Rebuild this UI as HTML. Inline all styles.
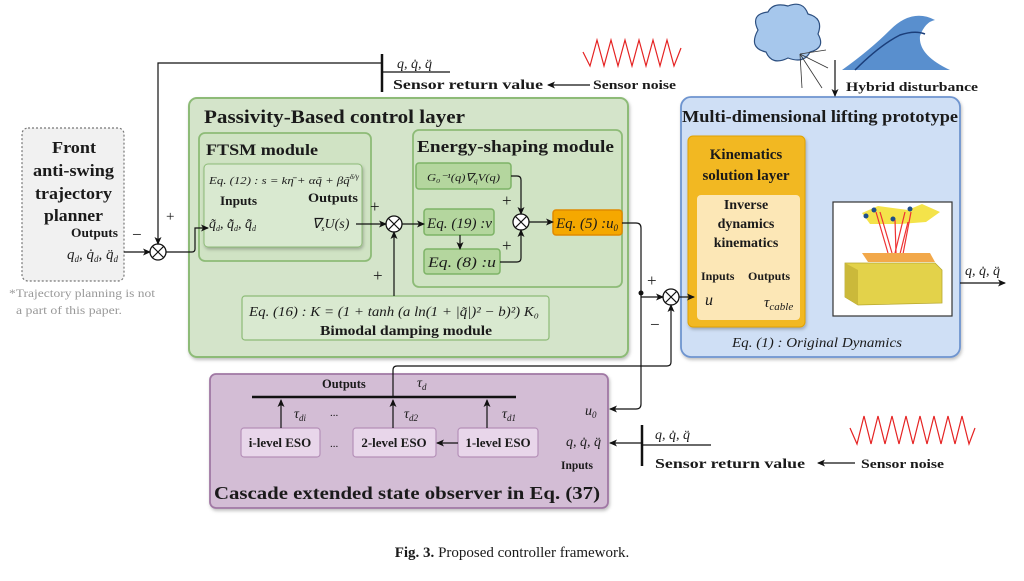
<!DOCTYPE html>
<html><head><meta charset="utf-8"><style>
body{margin:0;background:#fff}
svg{display:block}
text{font-family:"Liberation Serif",serif;fill:#1a1a1a}
.b{font-weight:bold}
.i{font-style:italic}
</style></head><body>
<svg width="1024" height="581" viewBox="0 0 1024 581" xmlns="http://www.w3.org/2000/svg">
<defs>
<marker id="a" markerWidth="8" markerHeight="8" refX="7" refY="4" orient="auto" markerUnits="userSpaceOnUse"><path d="M0,0.5 L8,4 L0,7.5 L2,4 Z" fill="#111"/></marker>
<filter id="sh" x="-5%" y="-5%" width="110%" height="115%"><feDropShadow dx="1" dy="2" stdDeviation="1.5" flood-opacity="0.25"/></filter>
</defs>

<!-- Front planner -->
<rect x="22" y="128" width="102" height="153" rx="6" fill="#f1f1f1" stroke="#777" stroke-width="1.2" stroke-dasharray="2,2"/>
<text x="52" y="153" class="b" font-size="17" textLength="44" lengthAdjust="spacingAndGlyphs">Front</text>
<text x="33" y="176" class="b" font-size="17" textLength="81" lengthAdjust="spacingAndGlyphs">anti-swing</text>
<text x="35" y="199" class="b" font-size="17" textLength="77" lengthAdjust="spacingAndGlyphs">trajectory</text>
<text x="44" y="221" class="b" font-size="17" textLength="59" lengthAdjust="spacingAndGlyphs">planner</text>
<text x="71" y="237" class="b" font-size="12.5" textLength="47" lengthAdjust="spacingAndGlyphs">Outputs</text>
<text x="67" y="259" class="i" font-size="15">q<tspan font-size="9" dy="3">d</tspan><tspan dy="-3">, q̇</tspan><tspan font-size="9" dy="3">d</tspan><tspan dy="-3">, q̈</tspan><tspan font-size="9" dy="3">d</tspan></text>
<text x="9" y="297" font-size="12" style="fill:#999" textLength="146" lengthAdjust="spacingAndGlyphs">*Trajectory planning is not</text>
<text x="16" y="314" font-size="12" style="fill:#999" textLength="106" lengthAdjust="spacingAndGlyphs">a part of this paper.</text>

<!-- Green outer -->
<rect x="189" y="98" width="439" height="259" rx="8" fill="#d4e4ca" stroke="#8dbb77" stroke-width="2" filter="url(#sh)"/>
<text x="204" y="123" class="b" font-size="19" textLength="261" lengthAdjust="spacingAndGlyphs">Passivity-Based control layer</text>
<!-- FTSM -->
<rect x="199" y="133" width="172" height="128" rx="6" fill="#d0e3c4" stroke="#8dbb77" stroke-width="1.8"/>
<text x="206" y="155" class="b" font-size="16" textLength="112" lengthAdjust="spacingAndGlyphs">FTSM module</text>
<rect x="204" y="164" width="158" height="83" rx="4" fill="#d9e9d0" stroke="#8dbb77" stroke-width="1" filter="url(#sh)"/>
<text x="209" y="184" class="i" font-size="11" textLength="150" lengthAdjust="spacingAndGlyphs">Eq. (12) : s = kη̄ + αq̃ + βq̃<tspan font-size="7" dy="-5">δ/γ</tspan></text>
<text x="220" y="205" class="b" font-size="12.5" textLength="37" lengthAdjust="spacingAndGlyphs">Inputs</text>
<text x="308" y="202" class="b" font-size="12.5" textLength="50" lengthAdjust="spacingAndGlyphs">Outputs</text>
<text x="209" y="228" class="i" font-size="14">q̃<tspan font-size="8" dy="3">d</tspan><tspan dy="-3">, q̃̇</tspan><tspan font-size="8" dy="3">d</tspan><tspan dy="-3">, q̃̈</tspan><tspan font-size="8" dy="3">d</tspan></text>
<text x="312" y="228" class="i" font-size="14">∇<tspan font-size="8" dy="3">s</tspan><tspan dy="-3">U(s)</tspan></text>
<!-- Energy shaping -->
<rect x="413" y="130" width="209" height="157" rx="6" fill="#d0e3c4" stroke="#8dbb77" stroke-width="1.8"/>
<text x="417" y="152" class="b" font-size="17" textLength="197" lengthAdjust="spacingAndGlyphs">Energy-shaping module</text>
<rect x="416" y="163" width="95" height="26" rx="3" fill="#b4d69e" stroke="#7db366" stroke-width="1.5"/>
<text x="427" y="181" class="i" font-size="11" textLength="73" lengthAdjust="spacingAndGlyphs">G₀⁻¹(q)∇<tspan font-size="7" dy="2">q</tspan><tspan dy="-2">V(q)</tspan></text>
<rect x="424" y="209" width="70" height="26" rx="3" fill="#b4d69e" stroke="#7db366" stroke-width="1.5"/>
<text x="427" y="228" class="i" font-size="15" textLength="65" lengthAdjust="spacingAndGlyphs">Eq. (19) :v</text>
<rect x="424" y="249" width="76" height="25" rx="3" fill="#b4d69e" stroke="#7db366" stroke-width="1.5"/>
<text x="428" y="267" class="i" font-size="15" textLength="68" lengthAdjust="spacingAndGlyphs">Eq. (8) :u</text>
<rect x="553" y="210" width="69" height="25" rx="3" fill="#f5a800" stroke="#e08a00" stroke-width="1.5"/>
<text x="556" y="228" class="i" font-size="15" textLength="62" lengthAdjust="spacingAndGlyphs">Eq. (5) :u<tspan font-size="9" dy="3">0</tspan></text>
<!-- Bimodal -->
<rect x="242" y="296" width="307" height="44" rx="3" fill="#d9e9d0" stroke="#8dbb77" stroke-width="1.2"/>
<text x="249" y="316" class="i" font-size="13.5" textLength="290" lengthAdjust="spacingAndGlyphs">Eq. (16) : K = (1 + tanh (a ln(1 + |q̃|)² − b)²) K₀</text>
<text x="320" y="335" class="b" font-size="13.5" textLength="172" lengthAdjust="spacingAndGlyphs">Bimodal damping module</text>

<!-- Blue -->
<rect x="681" y="97" width="279" height="260" rx="10" fill="#cfdff5" stroke="#6e94cf" stroke-width="1.8" filter="url(#sh)"/>
<text x="682" y="122" class="b" font-size="17" textLength="276" lengthAdjust="spacingAndGlyphs">Multi-dimensional lifting prototype</text>
<rect x="688" y="136" width="117" height="191" rx="5" fill="#f2b820" stroke="#e2a200" stroke-width="1" filter="url(#sh)"/>
<text x="746" y="159" class="b" font-size="15" text-anchor="middle">Kinematics</text>
<text x="746" y="180" class="b" font-size="15" text-anchor="middle">solution layer</text>
<rect x="697" y="195" width="103" height="125" rx="4" fill="#fce7b6"/>
<text x="746" y="209" class="b" font-size="14" text-anchor="middle">Inverse</text>
<text x="746" y="228" class="b" font-size="14" text-anchor="middle">dynamics</text>
<text x="746" y="247" class="b" font-size="14" text-anchor="middle">kinematics</text>
<text x="701" y="280" class="b" font-size="12">Inputs</text>
<text x="748" y="280" class="b" font-size="12">Outputs</text>
<text x="705" y="305" class="i" font-size="16">u</text>
<text x="764" y="307" class="i" font-size="15">τ<tspan font-size="11" dy="3">cable</tspan></text>
<rect x="833" y="202" width="119" height="114" fill="#fff" stroke="#333" stroke-width="1.2"/>
<polygon points="862,213 878,206 908,210 922,204 940,212 926,222 900,224 870,224" fill="#f4e34a"/>
<g fill="#1f4f8a"><circle cx="874" cy="210" r="2.5"/><circle cx="910" cy="209" r="2.5"/><circle cx="866" cy="216" r="2.5"/><circle cx="893" cy="219" r="2.5"/></g>
<g stroke="#e33" stroke-width="1.2"><line x1="876" y1="212" x2="888" y2="253"/><line x1="880" y1="212" x2="892" y2="253"/><line x1="905" y1="212" x2="895" y2="253"/><line x1="908" y1="222" x2="900" y2="254"/><line x1="911" y1="212" x2="903" y2="254"/><line x1="895" y1="220" x2="896" y2="253"/></g>
<polygon points="862,253 930,253 935,262 868,262" fill="#f2a84a"/>
<polygon points="845,263 935,263 942,270 942,303 858,305 845,297" fill="#e3d24a" stroke="#b8a830" stroke-width="0.8"/>
<polygon points="845,263 858,270 858,305 845,297" fill="#cbb93a"/>
<text x="732" y="347" class="i" font-size="14" textLength="170" lengthAdjust="spacingAndGlyphs">Eq. (1) : Original Dynamics</text>

<!-- Purple -->
<rect x="210" y="374" width="398" height="134" rx="6" fill="#d3bdd5" stroke="#a078a4" stroke-width="1.8" filter="url(#sh)"/>
<text x="322" y="388" class="b" font-size="12.5">Outputs</text>
<text x="417" y="387" class="i" font-size="14">τ<tspan font-size="9" dy="3">d</tspan></text>
<line x1="252" y1="397" x2="516" y2="397" stroke="#111" stroke-width="2.5"/>
<g fill="#e8d6ea" stroke="#b590b8" stroke-width="1.2">
<rect x="241" y="428" width="79" height="29" rx="3"/>
<rect x="353" y="428" width="83" height="29" rx="3"/>
<rect x="458" y="428" width="80" height="29" rx="3"/>
</g>
<text x="280" y="447" class="b" font-size="13" text-anchor="middle">i-level ESO</text>
<text x="394" y="447" class="b" font-size="13" text-anchor="middle">2-level ESO</text>
<text x="498" y="447" class="b" font-size="13" text-anchor="middle">1-level ESO</text>
<text x="330" y="447" font-size="11">...</text>
<text x="330" y="416" font-size="11">...</text>
<g stroke="#111" stroke-width="1.2" fill="none" marker-end="url(#a)">
<line x1="281" y1="428" x2="281" y2="400"/><line x1="393" y1="428" x2="393" y2="400"/><line x1="487" y1="428" x2="487" y2="400"/>
<line x1="458" y1="443" x2="437" y2="443"/>
</g>
<text x="294" y="418" class="i" font-size="14">τ<tspan font-size="9" dy="3">di</tspan></text>
<text x="404" y="418" class="i" font-size="14">τ<tspan font-size="9" dy="3">d2</tspan></text>
<text x="502" y="418" class="i" font-size="14">τ<tspan font-size="9" dy="3">d1</tspan></text>
<text x="585" y="415" class="i" font-size="14">u<tspan font-size="9" dy="3">0</tspan></text>
<text x="566" y="446" class="i" font-size="14">q, q̇, q̈</text>
<text x="561" y="469" class="b" font-size="11.5">Inputs</text>
<text x="214" y="499" class="b" font-size="18" textLength="386" lengthAdjust="spacingAndGlyphs">Cascade extended state observer in Eq. (37)</text>

<!-- Summing junctions -->
<g fill="#fff" stroke="#111" stroke-width="1.3">
<circle cx="158" cy="252" r="8"/><circle cx="394" cy="224" r="8"/><circle cx="521" cy="222" r="8"/><circle cx="671" cy="297" r="8"/>
</g>
<g stroke="#111" stroke-width="1.1">
<path d="M152.3,246.3 L163.7,257.7 M163.7,246.3 L152.3,257.7"/>
<path d="M388.3,218.3 L399.7,229.7 M399.7,218.3 L388.3,229.7"/>
<path d="M515.3,216.3 L526.7,227.7 M526.7,216.3 L515.3,227.7"/>
<path d="M665.3,291.3 L676.7,302.7 M676.7,291.3 L665.3,302.7"/>
</g>
<text x="166" y="221" font-size="15">+</text>
<text x="132" y="240" font-size="17">−</text>
<text x="370" y="212" font-size="17">+</text>
<text x="373" y="281" font-size="17">+</text>
<text x="502" y="206" font-size="17">+</text>
<text x="502" y="251" font-size="17">+</text>
<text x="647" y="286" font-size="17">+</text>
<text x="650" y="330" font-size="17">−</text>

<!-- Connectors -->
<g stroke="#111" stroke-width="1.2" fill="none">
<path d="M124,252 L150,252" marker-end="url(#a)"/>
<path d="M382,63 L158,63 L158,244" marker-end="url(#a)"/>
<path d="M166,252 L192,252 Q195,252 195,249 L195,228 L208,228" marker-end="url(#a)"/>
<path d="M356,224 L386,224" marker-end="url(#a)"/>
<path d="M394,296 L394,232" marker-end="url(#a)"/>
<path d="M402,224 L424,224" marker-end="url(#a)"/>
<path d="M460,235 L460,249" marker-end="url(#a)"/>
<path d="M511,176 L517,176 Q521,176 521,180 L521,214" marker-end="url(#a)"/>
<path d="M500,262 L517,262 Q521,262 521,258 L521,230" marker-end="url(#a)"/>
<path d="M529,222 L553,222" marker-end="url(#a)"/>
<path d="M622,223 L636,223 Q641,223 641,228 L641,404 Q641,409 636,409 L610,409" marker-end="url(#a)"/>
<path d="M641,297 L663,297" marker-end="url(#a)"/>
<path d="M393,397 L393,370 Q393,366 397,366 L667,366 Q671,366 671,362 L671,305" marker-end="url(#a)"/>
<path d="M679,297 L694,297" marker-end="url(#a)"/>
<path d="M960,283 L1005,283" marker-end="url(#a)"/>
<path d="M835,60 L835,96" marker-end="url(#a)"/>
<path d="M590,85 L548,85" marker-end="url(#a)"/>
<path d="M855,463 L818,463" marker-end="url(#a)"/>
<path d="M642,443 L610,443" marker-end="url(#a)"/>
<line x1="382" y1="72" x2="450" y2="72"/>
<line x1="642" y1="445" x2="711" y2="445"/>
</g>
<circle cx="641" cy="293" r="2.5" fill="#111"/>
<line x1="382" y1="54" x2="382" y2="92" stroke="#111" stroke-width="2.5"/>
<line x1="642" y1="425" x2="642" y2="466" stroke="#111" stroke-width="2.5"/>

<text x="397" y="68" class="i" font-size="14">q, q̇, q̈</text>
<text x="393" y="89" class="b" font-size="13.5" textLength="150" lengthAdjust="spacingAndGlyphs">Sensor return value</text>
<text x="593" y="89" class="b" font-size="13" textLength="83" lengthAdjust="spacingAndGlyphs">Sensor noise</text>
<text x="655" y="439" class="i" font-size="14">q, q̇, q̈</text>
<text x="655" y="468" class="b" font-size="13.5" textLength="150" lengthAdjust="spacingAndGlyphs">Sensor return value</text>
<text x="861" y="468" class="b" font-size="13" textLength="83" lengthAdjust="spacingAndGlyphs">Sensor noise</text>
<text x="965" y="275" class="i" font-size="14">q, q̇, q̈</text>
<text x="846" y="91" class="b" font-size="13" textLength="132" lengthAdjust="spacingAndGlyphs">Hybrid  disturbance</text>

<polyline fill="none" stroke="#e52222" stroke-width="1.2" points="583,52 590,66 597,40 604,66 611,40 618,66 625,40 632,66 639,40 646,66 653,40 660,66 667,40 674,66 681,48"/>
<polyline fill="none" stroke="#e52222" stroke-width="1.2" points="850,428 857,444 864,416 871,444 878,416 885,444 892,416 899,444 906,416 913,444 920,416 927,444 934,416 941,444 948,416 955,444 962,416 969,444 975,428"/>

<!-- cloud & wave -->
<path d="M758,30 Q750,14 768,12 Q773,2 788,6 Q803,0 808,14 Q824,18 818,34 Q826,48 810,52 Q804,64 788,58 Q772,66 766,52 Q748,48 758,30 Z" fill="#a6c7ec" stroke="#2c4f80" stroke-width="1.2"/>
<g stroke="#333" stroke-width="0.8"><line x1="800" y1="54" x2="802" y2="88"/><line x1="800" y1="54" x2="822" y2="88"/><line x1="800" y1="54" x2="828" y2="68"/><line x1="800" y1="54" x2="826" y2="50"/></g>
<path d="M842,70 Q870,50 890,30 Q912,8 935,20 Q925,22 920,36 Q918,55 950,70 Z" fill="#3c7bc6" opacity="0.85"/>
<path d="M855,70 Q880,45 900,35 Q915,30 925,34" fill="none" stroke="#1b3e7a" stroke-width="1.5"/>

<text x="512" y="557" font-size="15" text-anchor="middle"><tspan font-weight="bold">Fig. 3.</tspan> Proposed controller framework.</text>
</svg>
</body></html>
